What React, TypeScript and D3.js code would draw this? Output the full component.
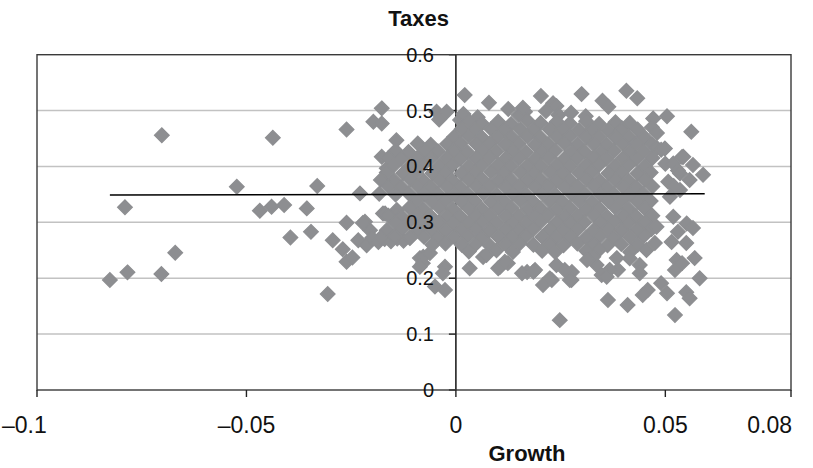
import React from "react";
import * as d3 from "d3";

const W = 813;
const H = 468;

const xTicks = [-0.1, -0.05, 0, 0.05, 0.08];
const xTickLabels = ["\u20130.1", "\u20130.05", "0", "0.05", "0.08"];
const yTicks = [0, 0.1, 0.2, 0.3, 0.4, 0.5, 0.6];
const yTickLabels = ["0", "0.1", "0.2", "0.3", "0.4", "0.5", "0.6"];
const gridValues = [0.1, 0.2, 0.3, 0.4, 0.5];

const titleText = "Taxes";
const xTitleText = "Growth";

// [growth, taxes]
const farLeft: [number, number][] = [
  [-0.0826, 0.197], [-0.079, 0.327], [-0.0784, 0.2105], [-0.0702, 0.456], [-0.0703, 0.2075],
  [-0.067, 0.2457], [-0.0523, 0.3637], [-0.0437, 0.4513], [-0.0468, 0.3208], [-0.044, 0.328],
  [-0.041, 0.331], [-0.0395, 0.273], [-0.0356, 0.325], [-0.0346, 0.283], [-0.0331, 0.365],
  [-0.0306, 0.1717], [-0.0294, 0.268], [-0.027, 0.2517], [-0.0261, 0.2295], [-0.0247, 0.237],
  [-0.0261, 0.4663], [-0.0261, 0.2993], [-0.0229, 0.3518], [-0.0233, 0.268], [-0.0217, 0.301],
  [-0.0205, 0.286], [-0.0213, 0.259], [-0.0222, 0.299], [-0.0197, 0.48], [-0.0177, 0.504],
  [-0.0177, 0.477],
];

const leftFringe: [number, number][] = [
  [-0.02, 0.272], [-0.0185, 0.265], [-0.017, 0.27], [-0.0155, 0.266], [-0.014, 0.271],
  [-0.0125, 0.267], [-0.011, 0.272], [-0.0174, 0.316], [-0.0141, 0.322], [-0.011, 0.327],
  [-0.0169, 0.316], [-0.0142, 0.313], [-0.0165, 0.3966], [-0.0177, 0.4175], [-0.0142, 0.447],
  [-0.0086, 0.236], [-0.0079, 0.227], [-0.0078, 0.2385], [-0.0086, 0.2206], [-0.005, 0.185],
  [-0.0026, 0.179], [-0.0026, 0.2206], [-0.0062, 0.245], [-0.0031, 0.209], [-0.0046, 0.498],
  [-0.0022, 0.498], [-0.004, 0.484],
];

const topFringe: [number, number][] = [
  [0.001, 0.483], [0.0021, 0.5277], [0.0079, 0.514], [0.0203, 0.526], [0.0232, 0.513],
  [0.03, 0.5295], [0.035, 0.5175], [0.0364, 0.507], [0.0407, 0.5355], [0.0433, 0.522],
  [0.0471, 0.486], [0.0504, 0.49], [0.0018, 0.494], [0.0052, 0.488], [0.0125, 0.503],
  [0.015, 0.492], [0.0165, 0.498], [0.016, 0.505], [0.024, 0.508], [0.0215, 0.499],
  [0.0245, 0.492], [0.0275, 0.496], [0.031, 0.49], [0.0396, 0.469], [0.0415, 0.478],
  [0.0468, 0.47], [0.048, 0.46], [0.0562, 0.462],
];

const core: [number, number][] = [
  [0.0031, 0.481], [0.0062, 0.477], [0.0101, 0.48], [0.0132, 0.476], [0.0171, 0.482], [0.0202, 0.478], [0.0241, 0.48], [0.0272, 0.477], [0.0311, 0.481], [0.0342, 0.476], [0.0381, 0.479],
  [0.0014, 0.467], [0.0045, 0.466], [0.0084, 0.467], [0.0115, 0.465], [0.0154, 0.466], [0.0185, 0.465], [0.0224, 0.466], [0.0255, 0.467], [0.0294, 0.465], [0.0325, 0.466], [0.0364, 0.465], [0.0395, 0.464], [0.0434, 0.466],
  [-0.0004, 0.453], [0.0031, 0.454], [0.0062, 0.452], [0.0101, 0.453], [0.0132, 0.453], [0.0171, 0.454], [0.0202, 0.452], [0.0241, 0.453], [0.0272, 0.454], [0.0311, 0.452], [0.0342, 0.453], [0.0381, 0.452], [0.0412, 0.454], [0.0451, 0.452],
  [-0.0091, 0.441], [-0.006, 0.439], [-0.0021, 0.44], [0.001, 0.441], [0.0049, 0.44], [0.008, 0.441], [0.0119, 0.439], [0.015, 0.441], [0.0189, 0.439], [0.022, 0.44], [0.0259, 0.441], [0.029, 0.439], [0.0329, 0.44], [0.036, 0.439], [0.0399, 0.44], [0.043, 0.441], [0.0469, 0.439],
  [-0.0144, 0.428], [-0.0113, 0.426], [-0.0074, 0.428], [-0.0043, 0.427], [-0.0004, 0.428], [0.0027, 0.426], [0.0066, 0.428], [0.0097, 0.427], [0.0136, 0.428], [0.0167, 0.426], [0.0206, 0.427], [0.0237, 0.428], [0.0276, 0.426], [0.0307, 0.427], [0.0346, 0.426], [0.0377, 0.428], [0.0416, 0.426], [0.0447, 0.427],
  [-0.0161, 0.415], [-0.013, 0.414], [-0.0091, 0.416], [-0.006, 0.414], [-0.0021, 0.415], [0.001, 0.414], [0.0049, 0.415], [0.008, 0.416], [0.0119, 0.414], [0.015, 0.415], [0.0189, 0.414], [0.022, 0.416], [0.0259, 0.414], [0.029, 0.415], [0.0329, 0.416], [0.036, 0.414], [0.0399, 0.415], [0.043, 0.414], [0.0469, 0.415],
  [-0.0148, 0.402], [-0.0109, 0.401], [-0.0078, 0.403], [-0.0039, 0.401], [-0.0008, 0.402], [0.0031, 0.401], [0.0062, 0.402], [0.0101, 0.403], [0.0132, 0.401], [0.0171, 0.402], [0.0202, 0.401], [0.0241, 0.403], [0.0272, 0.401], [0.0311, 0.402], [0.0342, 0.403], [0.0381, 0.401], [0.0412, 0.402], [0.0451, 0.401],
  [-0.0165, 0.389], [-0.0126, 0.388], [-0.0095, 0.39], [-0.0056, 0.388], [-0.0025, 0.389], [0.0014, 0.388], [0.0045, 0.389], [0.0084, 0.39], [0.0115, 0.388], [0.0154, 0.389], [0.0185, 0.388], [0.0224, 0.39], [0.0255, 0.388], [0.0294, 0.389], [0.0325, 0.39], [0.0364, 0.388], [0.0395, 0.389], [0.0434, 0.388], [0.0465, 0.389],
  [-0.0179, 0.376], [-0.0148, 0.375], [-0.0109, 0.377], [-0.0078, 0.375], [-0.0039, 0.376], [-0.0008, 0.375], [0.0031, 0.376], [0.0062, 0.377], [0.0101, 0.375], [0.0132, 0.376], [0.0171, 0.375], [0.0202, 0.377], [0.0241, 0.375], [0.0272, 0.376], [0.0311, 0.377], [0.0342, 0.375], [0.0381, 0.376], [0.0412, 0.375], [0.0451, 0.376],
  [-0.0161, 0.364], [-0.013, 0.363], [-0.0091, 0.365], [-0.006, 0.363], [-0.0021, 0.364], [0.001, 0.363], [0.0049, 0.364], [0.008, 0.365], [0.0119, 0.363], [0.015, 0.364], [0.0189, 0.363], [0.022, 0.365], [0.0259, 0.363], [0.029, 0.364], [0.0329, 0.365], [0.036, 0.363], [0.0399, 0.364], [0.043, 0.363], [0.0469, 0.364],
  [-0.0183, 0.351], [-0.0144, 0.35], [-0.0113, 0.352], [-0.0074, 0.35], [-0.0043, 0.351], [-0.0004, 0.35], [0.0027, 0.351], [0.0066, 0.352], [0.0097, 0.35], [0.0136, 0.351], [0.0167, 0.35], [0.0206, 0.352], [0.0237, 0.35], [0.0276, 0.351], [0.0307, 0.352], [0.0346, 0.35], [0.0377, 0.351], [0.0416, 0.35], [0.0447, 0.351],
  [-0.0095, 0.338], [-0.0056, 0.337], [-0.0025, 0.339], [0.0014, 0.337], [0.0045, 0.338], [0.0084, 0.337], [0.0115, 0.338], [0.0154, 0.339], [0.0185, 0.337], [0.0224, 0.338], [0.0255, 0.337], [0.0294, 0.339], [0.0325, 0.337], [0.0364, 0.338], [0.0395, 0.339], [0.0434, 0.337], [0.0465, 0.338],
  [-0.0109, 0.325], [-0.0078, 0.324], [-0.0039, 0.326], [-0.0008, 0.324], [0.0031, 0.325], [0.0062, 0.324], [0.0101, 0.325], [0.0132, 0.326], [0.0171, 0.324], [0.0202, 0.325], [0.0241, 0.324], [0.0272, 0.326], [0.0311, 0.324], [0.0342, 0.325], [0.0381, 0.326], [0.0412, 0.324], [0.0451, 0.325],
  [-0.0161, 0.312], [-0.013, 0.311], [-0.0091, 0.313], [-0.006, 0.311], [-0.0021, 0.312], [0.001, 0.311], [0.0049, 0.312], [0.008, 0.313], [0.0119, 0.311], [0.015, 0.312], [0.0189, 0.311], [0.022, 0.313], [0.0259, 0.311], [0.029, 0.312], [0.0329, 0.313], [0.036, 0.311], [0.0399, 0.312], [0.043, 0.311], [0.0469, 0.312],
  [-0.0144, 0.299], [-0.0111, 0.301], [-0.0078, 0.299], [-0.0041, 0.3], [-0.0006, 0.299], [0.0031, 0.3], [0.0064, 0.301], [0.0097, 0.299], [0.0136, 0.3], [0.0169, 0.299], [0.0202, 0.301], [0.0241, 0.3], [0.0274, 0.299], [0.0307, 0.3], [0.0346, 0.299], [0.0379, 0.301], [0.0412, 0.299], [0.0451, 0.3],
  [-0.0165, 0.286], [-0.0128, 0.288], [-0.0091, 0.286], [-0.0058, 0.287], [-0.0025, 0.286], [0.0014, 0.287], [0.0047, 0.288], [0.008, 0.286], [0.0119, 0.287], [0.0152, 0.286], [0.0185, 0.288], [0.0224, 0.287], [0.0257, 0.286], [0.029, 0.287], [0.0329, 0.286], [0.0362, 0.288], [0.0395, 0.286], [0.0434, 0.287], [0.0467, 0.288],
  [-0.0179, 0.273], [-0.0146, 0.275], [-0.0109, 0.273], [-0.0076, 0.274], [-0.0043, 0.273], [-0.0004, 0.274], [0.0029, 0.275], [0.0062, 0.273], [0.0101, 0.274], [0.0134, 0.273], [0.0167, 0.275], [0.0206, 0.274], [0.0239, 0.273], [0.0272, 0.274], [0.0311, 0.273], [0.0344, 0.275], [0.0377, 0.273], [0.0416, 0.274], [0.0449, 0.276],
  [-0.0056, 0.26], [-0.0025, 0.262], [0.0014, 0.26], [0.0047, 0.261], [0.008, 0.259], [0.0119, 0.261], [0.0152, 0.262], [0.0185, 0.26], [0.0224, 0.261], [0.0257, 0.259], [0.029, 0.262], [0.0329, 0.261], [0.0362, 0.259], [0.0395, 0.261], [0.0434, 0.26],
  [0.0031, 0.248], [0.0097, 0.25], [0.0136, 0.247], [0.0206, 0.249], [0.0237, 0.247], [0.0311, 0.249], [0.0342, 0.251], [0.0416, 0.247],
];

const rightFringe: [number, number][] = [
  [0.048, 0.433], [0.049, 0.43], [0.054, 0.417], [0.059, 0.385], [0.05, 0.405], [0.0519, 0.4055],
  [0.053, 0.393], [0.0507, 0.3726], [0.0511, 0.3458], [0.0535, 0.3578], [0.0558, 0.3757],
  [0.0535, 0.3876], [0.0566, 0.4025], [0.0543, 0.4175], [0.0499, 0.432], [0.052, 0.365],
  [0.0519, 0.31], [0.0551, 0.298], [0.0566, 0.29], [0.053, 0.283], [0.0515, 0.265], [0.055, 0.263],
  [0.0527, 0.2325], [0.054, 0.227], [0.0523, 0.2147], [0.057, 0.236], [0.0582, 0.2], [0.049, 0.191],
  [0.0504, 0.173], [0.055, 0.175], [0.0558, 0.164], [0.0523, 0.134], [0.0475, 0.263], [0.0479, 0.292],
];

const bottomFringe: [number, number][] = [
  [0.0439, 0.2236], [0.0439, 0.209], [0.0458, 0.179], [0.0446, 0.17], [0.041, 0.152], [0.0387, 0.215],
  [0.0415, 0.2355], [0.0455, 0.2504], [0.0384, 0.236], [0.0367, 0.215], [0.0363, 0.161], [0.0348, 0.2057],
  [0.0336, 0.2236], [0.0328, 0.2385], [0.0313, 0.2326], [0.0277, 0.211], [0.0272, 0.197], [0.024, 0.2236],
  [0.0248, 0.125], [0.0229, 0.197], [0.0208, 0.188], [0.0189, 0.2147], [0.017, 0.211], [0.0158, 0.209],
  [0.0124, 0.227], [0.0105, 0.22], [0.0065, 0.238], [0.0033, 0.218], [0.0073, 0.2415], [0.0117, 0.2296],
  [0.0101, 0.2177], [0.026, 0.2147], [0.0276, 0.1968], [0.0224, 0.1998], [0.0185, 0.2116], [0.036, 0.2027],
];

const trendGrowth = [-0.0826, 0.0594];
const trendTaxes = [0.3488, 0.3512];

const markerColor = "#8d8e91";

export default function App() {
  const left = 37, right = 791, top = 54.7, bottom = 390;
  const x = d3.scaleLinear().domain([-0.1, 0.08]).range([left, right]);
  const y = d3.scaleLinear().domain([0, 0.6]).range([bottom, top]);
  const points = [...farLeft, ...leftFringe, ...topFringe, ...core, ...rightFringe, ...bottomFringe];
  const r = 7.3;
  const diamond = `M0,${-r}L${r},0L0,${r}L${-r},0Z`;
  const trendLine = d3
    .line<number>()
    .x((_, i) => x(trendGrowth[i]))
    .y((_, i) => y(trendTaxes[i]));
  const x0 = x(0);

  return (
    <svg
      width={W}
      height={H}
      style={{ position: "absolute", left: 0, top: 0, background: "#fff" }}
      fontFamily="'Liberation Sans', Arial, sans-serif"
    >
      <rect x={0} y={0} width={W} height={H} fill="#fff" />
      {gridValues.map((v) => (
        <line key={v} x1={left} x2={right} y1={y(v)} y2={y(v)} stroke="#c2c2c2" strokeWidth={1.5} />
      ))}
      <line x1={x0} x2={x0} y1={top} y2={bottom} stroke="#222" strokeWidth={1.6} />
      {yTicks.map((v) => (
        <line key={"yt" + v} x1={x0 - 7} x2={x0} y1={y(v)} y2={y(v)} stroke="#222" strokeWidth={1.4} />
      ))}
      {points.map((p, i) => (
        <path
          key={i}
          d={diamond}
          transform={`translate(${x(p[0])},${y(p[1])})`}
          fill={markerColor}
          stroke={markerColor}
          strokeWidth={1.3}
          strokeLinejoin="miter"
        />
      ))}
      <path d={trendLine([0, 1]) || ""} stroke="#000" strokeWidth={1.5} fill="none" />
      <rect x={left} y={top} width={right - left} height={bottom - top} fill="none" stroke="#3a3a3a" strokeWidth={1.4} />
      {xTicks.map((v) => (
        <line key={"xt" + v} x1={x(v)} x2={x(v)} y1={bottom} y2={bottom + 7} stroke="#222" strokeWidth={1.4} />
      ))}
      {yTicks.map((v, i) => (
        <text key={"yl" + v} x={434} y={y(v)} dy="0.35em" textAnchor="end" fontSize={20} fill="#111">
          {yTickLabels[i]}
        </text>
      ))}
      {xTicks.map((v, i) => {
        const last = i === xTicks.length - 1;
        const first = i === 0;
        return (
          <text
            key={"xl" + v}
            x={first ? 2 : last ? 792 : x(v)}
            y={433}
            textAnchor={first ? "start" : last ? "end" : "middle"}
            fontSize={23}
            fill="#111"
          >
            {xTickLabels[i]}
          </text>
        );
      })}
      <text x={418.5} y={26} textAnchor="middle" fontSize={22} fontWeight="bold" fill="#111">
        {titleText}
      </text>
      <text x={527} y={461} textAnchor="middle" fontSize={22} fontWeight="bold" fill="#111">
        {xTitleText}
      </text>
    </svg>
  );
}
